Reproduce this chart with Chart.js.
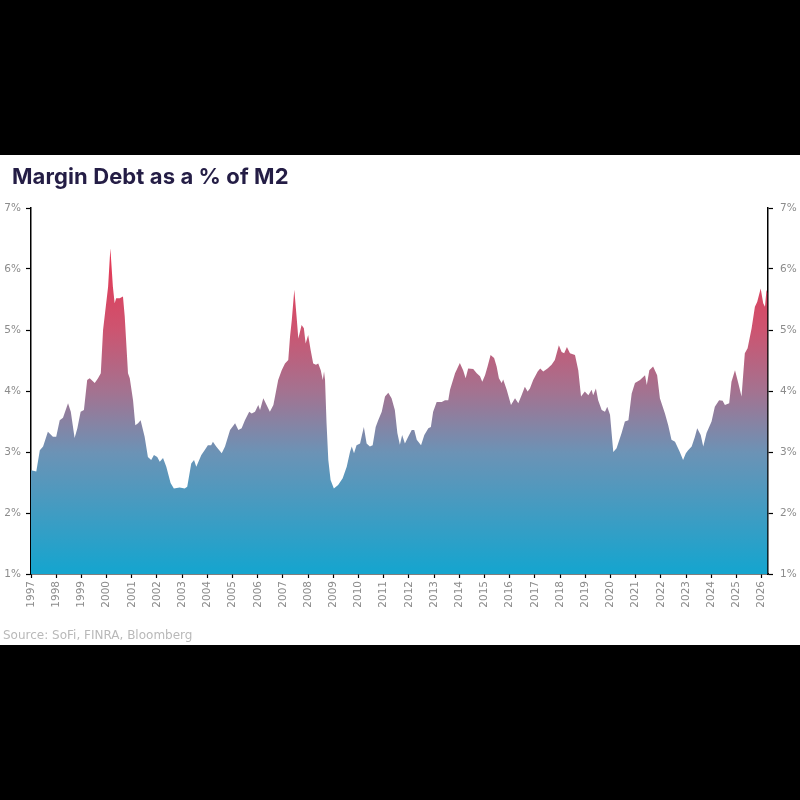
<!DOCTYPE html>
<html>
<head>
<meta charset="utf-8">
<script src="https://cdn.jsdelivr.net/npm/chart.js@4.4.1/dist/chart.umd.min.js"></script>
<style>
  body { margin: 0; background: #000; width: 800px; height: 800px; overflow: hidden; }
  .panel { position: absolute; left: 0; top: 155px; width: 800px; height: 490px; background: #fff; }
  .title { position: absolute; left: 12px; top: 8px; font: 700 22px Inter, sans-serif; color: #241d45; letter-spacing: 0.1px; }
  .source { position: absolute; left: 3px; top: 473px; font: 12px "DejaVu Sans", sans-serif; color: #b9b9b9; }
  .wrap { position: absolute; left: 0; top: 0; width: 800px; height: 490px; }
</style>
</head>
<body>
<div class="panel">
  <div class="wrap"><canvas id="chart-margin"></canvas></div>
  <div class="title">Margin Debt as a % of M2</div>
  <div class="source">Source: SoFi, FINRA, Bloomberg</div>
</div>
<script>
// dates as decimal years (% of M2)
const dates = [
  1997.00, 1997.21, 1997.35, 1997.48, 1997.67, 1997.87, 1998.00, 1998.14, 1998.27, 1998.47,
  1998.58, 1998.73, 1998.84, 1998.97, 1999.10, 1999.23, 1999.33, 1999.53, 1999.66, 1999.77,
  1999.86, 2000.06, 2000.15, 2000.25, 2000.32, 2000.38, 2000.52, 2000.65, 2000.72, 2000.85,
  2000.92, 2001.05, 2001.14, 2001.25, 2001.35, 2001.51, 2001.64, 2001.77, 2001.88, 2002.01,
  2002.11, 2002.24, 2002.37, 2002.54, 2002.67, 2002.90, 2003.10, 2003.20, 2003.36, 2003.47,
  2003.56, 2003.76, 2003.89, 2004.02, 2004.15, 2004.22, 2004.35, 2004.57, 2004.70, 2004.90,
  2005.10, 2005.23, 2005.36, 2005.49, 2005.66, 2005.76, 2005.89, 2006.02, 2006.09, 2006.22,
  2006.35, 2006.48, 2006.62, 2006.81, 2006.95, 2007.08, 2007.21, 2007.28, 2007.35, 2007.45,
  2007.54, 2007.61, 2007.74, 2007.83, 2007.90, 2008.00, 2008.10, 2008.20, 2008.31, 2008.40,
  2008.50, 2008.58, 2008.63, 2008.67, 2008.73, 2008.80, 2008.89, 2009.02, 2009.19, 2009.37,
  2009.53, 2009.66, 2009.73, 2009.82, 2009.92, 2010.06, 2010.12, 2010.21, 2010.32, 2010.45,
  2010.56, 2010.68, 2010.78, 2010.92, 2011.05, 2011.18, 2011.31, 2011.44, 2011.54, 2011.64,
  2011.73, 2011.84, 2011.97, 2012.11, 2012.21, 2012.31, 2012.48, 2012.61, 2012.77, 2012.87,
  2012.96, 2013.10, 2013.30, 2013.43, 2013.56, 2013.63, 2013.83, 2014.02, 2014.15, 2014.25,
  2014.35, 2014.55, 2014.69, 2014.82, 2014.91, 2015.02, 2015.12, 2015.24, 2015.38, 2015.48,
  2015.57, 2015.68, 2015.74, 2015.88, 2016.05, 2016.21, 2016.34, 2016.47, 2016.60, 2016.71,
  2016.80, 2016.93, 2017.11, 2017.21, 2017.33, 2017.50, 2017.66, 2017.79, 2017.95, 2018.06,
  2018.16, 2018.27, 2018.39, 2018.59, 2018.72, 2018.83, 2018.98, 2019.12, 2019.25, 2019.31,
  2019.42, 2019.51, 2019.65, 2019.78, 2019.87, 2019.98, 2020.11, 2020.24, 2020.44, 2020.57,
  2020.71, 2020.84, 2020.97, 2021.17, 2021.37, 2021.44, 2021.54, 2021.69, 2021.85, 2021.96,
  2022.16, 2022.29, 2022.42, 2022.56, 2022.75, 2022.88, 2022.99, 2023.08, 2023.22, 2023.35,
  2023.44, 2023.58, 2023.68, 2023.81, 2024.01, 2024.14, 2024.31, 2024.45, 2024.54, 2024.71,
  2024.80, 2024.94, 2025.07, 2025.20, 2025.33, 2025.44, 2025.60, 2025.73, 2025.82, 2025.96,
  2026.06, 2026.13, 2026.19, 2026.23
];
const marginPct = [
  2.70, 2.68, 3.03, 3.09, 3.33, 3.25, 3.25, 3.52, 3.56, 3.80,
  3.66, 3.23, 3.39, 3.66, 3.69, 4.18, 4.21, 4.13, 4.21, 4.29,
  5.00, 5.71, 6.34, 5.71, 5.44, 5.52, 5.52, 5.55, 5.22, 4.29,
  4.21, 3.85, 3.44, 3.47, 3.52, 3.25, 2.92, 2.87, 2.95, 2.92,
  2.84, 2.90, 2.76, 2.49, 2.40, 2.42, 2.40, 2.43, 2.81, 2.87,
  2.76, 2.95, 3.03, 3.11, 3.11, 3.17, 3.09, 2.98, 3.09, 3.36,
  3.47, 3.36, 3.39, 3.52, 3.66, 3.63, 3.66, 3.77, 3.69, 3.88,
  3.77, 3.66, 3.77, 4.18, 4.34, 4.45, 4.51, 4.89, 5.16, 5.66,
  5.22, 4.86, 5.08, 5.03, 4.78, 4.92, 4.67, 4.45, 4.43, 4.45,
  4.34, 4.18, 4.32, 4.18, 3.47, 2.87, 2.54, 2.40, 2.46, 2.57,
  2.76, 3.00, 3.09, 2.98, 3.11, 3.14, 3.25, 3.41, 3.14, 3.09,
  3.11, 3.41, 3.52, 3.66, 3.91, 3.97, 3.88, 3.69, 3.31, 3.12,
  3.28, 3.14, 3.25, 3.36, 3.36, 3.20, 3.11, 3.28, 3.39, 3.41,
  3.66, 3.82, 3.82, 3.85, 3.85, 4.02, 4.29, 4.46, 4.34, 4.21,
  4.37, 4.36, 4.29, 4.24, 4.15, 4.26, 4.40, 4.59, 4.54, 4.40,
  4.21, 4.13, 4.19, 4.02, 3.77, 3.88, 3.80, 3.93, 4.07, 3.99,
  4.04, 4.18, 4.32, 4.37, 4.32, 4.37, 4.43, 4.51, 4.75, 4.64,
  4.62, 4.72, 4.62, 4.59, 4.34, 3.91, 3.99, 3.93, 4.02, 3.93,
  4.04, 3.85, 3.69, 3.66, 3.74, 3.61, 3.00, 3.06, 3.31, 3.50,
  3.52, 3.96, 4.13, 4.18, 4.26, 4.10, 4.34, 4.40, 4.26, 3.88,
  3.63, 3.44, 3.20, 3.17, 3.00, 2.87, 2.98, 3.03, 3.09, 3.25,
  3.39, 3.28, 3.09, 3.31, 3.50, 3.74, 3.85, 3.84, 3.77, 3.80,
  4.15, 4.34, 4.13, 3.91, 4.62, 4.70, 5.03, 5.38, 5.46, 5.68,
  5.44, 5.38, 5.66, 5.60
];
const yearTicks = [
  1997, 1998, 1999, 2000, 2001, 2002, 2003, 2004, 2005, 2006,
  2007, 2008, 2009, 2010, 2011, 2012, 2013, 2014, 2015, 2016,
  2017, 2018, 2019, 2020, 2021, 2022, 2023, 2024, 2025, 2026
];
const yTicks = [1, 2, 3, 4, 5, 6, 7];

const tickFont = { family: '"DejaVu Sans", sans-serif', size: 10.5 };
const tickColor = '#8c8c8c';

function areaGradient(c) {
  const { ctx, chartArea } = c.chart;
  if (!chartArea) return '#1aa3cc';
  const g = ctx.createLinearGradient(0, chartArea.bottom, 0, chartArea.top);
  g.addColorStop(0, '#14a5cf');
  g.addColorStop(0.33, '#6b93b6');
  g.addColorStop(0.5, '#a47290');
  g.addColorStop(0.67, '#cd5470');
  g.addColorStop(0.85, '#e23a57');
  g.addColorStop(1, '#e8304f');
  return g;
}

function yAxis(position, width, pad) {
  return {
    type: 'linear',
    position: position,
    min: 1,
    max: 7,
    afterBuildTicks: (s) => { s.ticks = yTicks.map(v => ({ value: v })); },
    afterFit: (s) => { s.width = width; },
    grid: { drawOnChartArea: false, drawTicks: true, tickLength: 5, tickColor: '#000', tickWidth: 1.2 },
    border: { display: true, color: '#000', width: 1.5 },
    ticks: { color: tickColor, font: tickFont, padding: pad, callback: v => v + '%' }
  };
}

new Chart(document.getElementById('chart-margin'), {
  type: 'line',
  data: {
    datasets: [{
      data: dates.map((d, i) => ({ x: d, y: marginPct[i] })),
      fill: 'start',
      backgroundColor: areaGradient,
      borderWidth: 0,
      pointRadius: 0,
      tension: 0
    }]
  },
  options: {
    responsive: true,
    maintainAspectRatio: false,
    animation: false,
    layout: { padding: { top: 53, left: 0, right: 0, bottom: 0 } },
    plugins: { legend: { display: false }, tooltip: { enabled: false } },
    scales: {
      x: {
        type: 'linear',
        min: 1997,
        max: 2026.25,
        afterBuildTicks: (s) => { s.ticks = yearTicks.map(v => ({ value: v })); },
        afterFit: (s) => { s.height = 71; },
        grid: { drawOnChartArea: false, drawTicks: true, tickLength: 4, tickColor: '#000', tickWidth: 1.2 },
        border: { display: true, color: '#000', width: 1.5 },
        ticks: {
          autoSkip: false,
          maxRotation: 90,
          minRotation: 90,
          padding: 3,
          color: tickColor,
          font: tickFont,
          callback: v => String(v)
        }
      },
      y: yAxis('left', 31, 5),
      y2: yAxis('right', 32, 7)
    }
  }
});
</script>
</body>
</html>
